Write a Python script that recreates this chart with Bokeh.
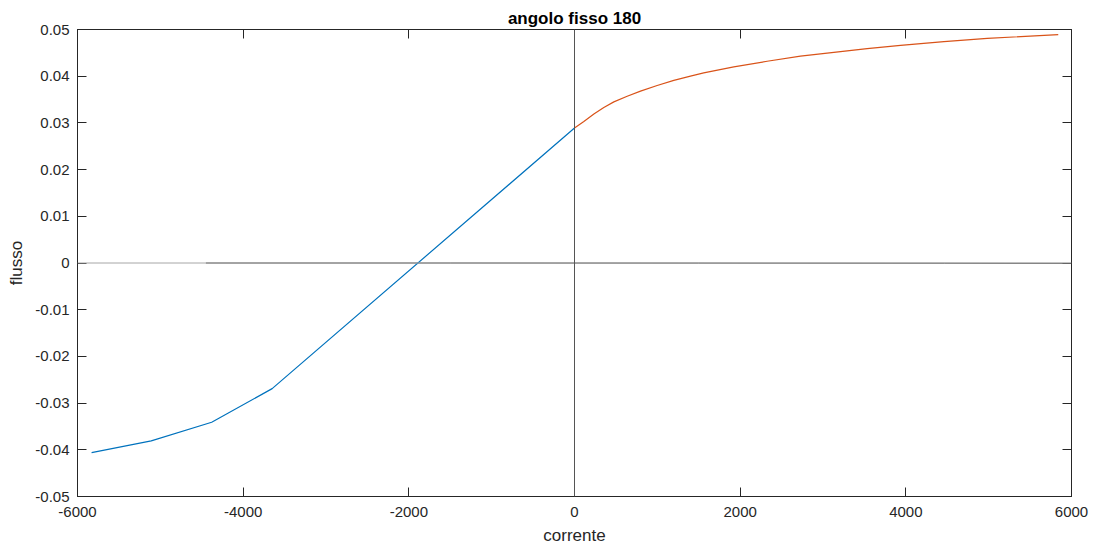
from bokeh.plotting import figure
from bokeh.models import (LinearAxis, Range1d, Span, FixedTicker,
                          CustomJSTickFormatter, CustomLabelingPolicy)
from bokeh.embed import file_html
from bokeh.resources import INLINE

# negative-current branch (blue)
corrente_neg = [-5830, -5110, -4380, -3650, 0]
flusso_neg = [-0.0406, -0.0381, -0.0341, -0.0269, 0.0289]

# positive-current branch (orange)
corrente_pos = [0, 113, 234, 354, 475, 636, 797, 998, 1199, 1400, 1560,
                1923, 2326, 2728, 3131, 3533, 3936, 4460, 4983, 5840]
flusso_pos = [0.0289, 0.0303, 0.0319, 0.0333, 0.0345, 0.0357, 0.0368,
              0.0380, 0.0391, 0.0400, 0.0407, 0.0420, 0.0432, 0.0443,
              0.0451, 0.0459, 0.0466, 0.0474, 0.0481, 0.0489]

# residual trace near zero (black)
corrente_res = [-4450, -1500, 1500, 4470, 6000]
flusso_res = [0.0, 0.0, -0.00002, -0.00005, -0.00008]

x_ticks = [-6000, -4000, -2000, 0, 2000, 4000, 6000]
y_ticks = [-0.05, -0.04, -0.03, -0.02, -0.01, 0, 0.01, 0.02, 0.03, 0.04, 0.05]

AX = "#262626"
FONT = "Liberation Sans"

p = figure(width=1094, height=551,
           x_range=Range1d(-6000, 6000), y_range=Range1d(-0.05, 0.05),
           output_backend="svg", toolbar_location=None,
           min_border_left=77, min_border_right=23,
           min_border_top=29, min_border_bottom=55,
           title="angolo fisso 180",
           x_axis_label="corrente", y_axis_label="flusso")

p.title.align = "center"
p.title.text_font = FONT
p.title.text_font_size = "17px"
p.title.text_font_style = "bold"
p.title.text_color = "#000000"
p.title.standoff = 4

p.xgrid.visible = False
p.ygrid.visible = False
p.outline_line_color = AX
p.outline_line_width = 1
p.background_fill_color = "white"
p.border_fill_color = "white"

xt = FixedTicker(ticks=x_ticks)
yt = FixedTicker(ticks=y_ticks)
xfmt = CustomJSTickFormatter(code="return tick.toFixed(0);")
yfmt = CustomJSTickFormatter(code="""
    return Math.abs(tick) < 1e-12 ? "0" : tick.toFixed(2);
""")
# mirrored box ticks carry no labels
no_labels = CustomLabelingPolicy(code="""
    const n = indices.size;
    for (let i = 0; i < n; i++) indices.unset(i);
    return indices;
""")

def style(ax, ticker, show_labels=True):
    ax.ticker = ticker
    ax.axis_line_color = AX
    ax.major_tick_line_color = AX
    ax.major_tick_in = 9
    ax.major_tick_out = 0
    ax.minor_tick_in = 0
    ax.minor_tick_out = 0
    ax.major_label_text_font = FONT
    ax.major_label_text_color = AX
    ax.axis_label_text_font = FONT
    ax.axis_label_text_color = AX
    ax.axis_label_text_font_style = "normal"
    ax.axis_label_text_font_size = "17px"
    ax.major_label_text_font_size = "15px"
    if not show_labels:
        ax.major_label_policy = no_labels
        ax.major_label_text_font_size = "0px"
        ax.major_label_standoff = 0

xa = p.xaxis[0]
ya = p.yaxis[0]
style(xa, xt)
style(ya, yt)
xa.formatter = xfmt
ya.formatter = yfmt
xa.major_label_standoff = 10
xa.axis_label_standoff = 6
ya.major_label_standoff = 8
ya.axis_label_standoff = 6

top = LinearAxis()
style(top, xt, show_labels=False)
p.add_layout(top, "above")
right = LinearAxis()
style(right, yt, show_labels=False)
p.add_layout(right, "right")

# reference lines through the origin
p.add_layout(Span(location=0, dimension="width", line_color="#a6a6a6", line_width=1))
p.add_layout(Span(location=0, dimension="height", line_color="#555555", line_width=1))

p.line(corrente_res, flusso_res, line_color="#444444", line_width=1)
p.line(corrente_neg, flusso_neg, line_color="#0072BD", line_width=1.2)
p.line(corrente_pos, flusso_pos, line_color="#D95319", line_width=1.2)

open("out.html", "w").write(file_html(p, INLINE))
